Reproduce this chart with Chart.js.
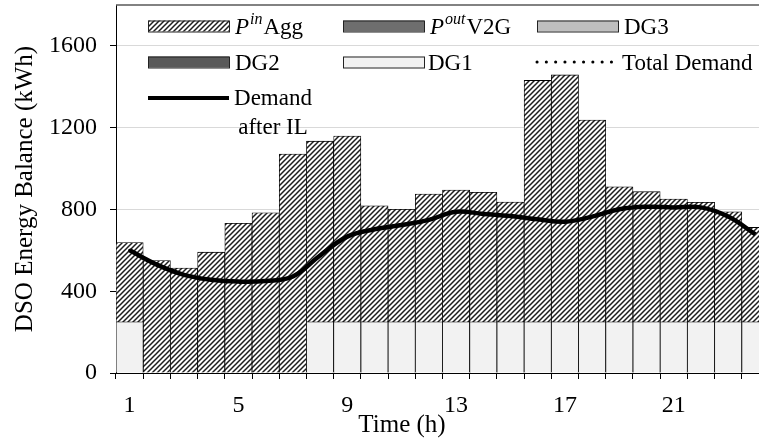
<!DOCTYPE html>
<html>
<head>
<meta charset="utf-8">
<script src="https://cdn.jsdelivr.net/npm/chart.js@4.4.0/dist/chart.umd.min.js"></script>
<style>
  html, body { margin: 0; padding: 0; background: #fff; overflow: hidden; }
  #wrap { position: relative; width: 772px; height: 441px; }
</style>
</head>
<body>
<div id="wrap"><canvas id="chart"></canvas></div>
<script>
// Hours of the day and which ones get a label
const hours = [1, 2, 3, 4, 5, 6, 7, 8, 9, 10, 11, 12, 13, 14, 15, 16, 17, 18, 19, 20, 21, 22, 23, 24];
const shownHours = [1, 5, 9, 13, 17, 21];

// Supply side (kWh), stacked bottom to top: DG1, DG2, DG3, V2G out, aggregator in
const dg1 = [250, 0, 0, 0, 0, 0, 0, 250, 250, 250, 250, 250, 250, 250, 250, 250, 250, 250, 250, 250, 250, 250, 250, 250];
const dg2 = [0, 0, 0, 0, 0, 0, 0, 0, 0, 0, 0, 0, 0, 0, 0, 0, 0, 0, 0, 0, 0, 0, 0, 0];
const dg3 = [0, 0, 0, 0, 0, 0, 0, 0, 0, 0, 0, 0, 0, 0, 0, 0, 0, 0, 0, 0, 0, 0, 0, 0];
const poutV2G = [0, 0, 0, 0, 0, 0, 0, 0, 0, 0, 0, 0, 0, 0, 0, 0, 0, 0, 0, 0, 0, 0, 0, 0];
const pinAgg = [388, 550, 513, 591, 732, 784, 1071, 884, 909, 568, 551, 625, 645, 634, 586, 1181, 1208, 987, 661, 637, 601, 585, 538, 462];

// Demand curves (kWh)
const totalDemand = [600, 530, 480, 456, 447, 450, 472, 575, 667, 703, 724, 749, 789, 778, 768, 752, 740, 765, 801, 813, 810, 810, 765, 678];
const demandAfterIL = [600, 530, 480, 456, 447, 450, 472, 575, 667, 703, 724, 749, 789, 778, 768, 752, 740, 765, 801, 813, 810, 810, 765, 678];

const FONT = '"Liberation Serif", "Times New Roman", serif';
Chart.defaults.font.family = FONT;
Chart.defaults.color = '#000';

function makeHatch() {
  const s = 5;
  const c = document.createElement('canvas');
  c.width = s; c.height = s;
  const g = c.getContext('2d');
  g.fillStyle = '#fff';
  g.fillRect(0, 0, s, s);
  g.strokeStyle = '#1e1e1e';
  g.lineWidth = 1.5;
  g.beginPath();
  g.moveTo(-1, s + 1); g.lineTo(s + 1, -1);
  g.moveTo(-1, 1); g.lineTo(1, -1);
  g.moveTo(s - 1, s + 1); g.lineTo(s + 1, s - 1);
  g.stroke();
  return g.createPattern(c, 'repeat');
}
const hatch = makeHatch();

const fills = { dg1: '#f2f2f2', dg2: '#595959', dg3: '#bfbfbf', v2g: '#6e6e6e' };

const barBase = { type: 'bar', borderColor: '#000', borderWidth: 0.8, barPercentage: 1, categoryPercentage: 1, order: 2 };

// Legend drawn inside the plot, three columns
const boxLegend = {
  id: 'boxLegend',
  afterDatasetsDraw(chart) {
    const ctx = chart.ctx;
    const boxW = 81, boxH = 11;
    const boxes = [
      { fill: hatch, x: 148, y: 26 },
      { fill: fills.v2g, x: 343, y: 26 },
      { fill: fills.dg3, x: 537, y: 26 },
      { fill: fills.dg2, x: 148, y: 62 },
      { fill: fills.dg1, x: 343, y: 62 }
    ];
    ctx.save();
    boxes.forEach(b => {
      ctx.fillStyle = b.fill;
      ctx.fillRect(b.x, b.y - boxH / 2, boxW, boxH);
      ctx.strokeStyle = '#222';
      ctx.lineWidth = 1;
      ctx.strokeRect(b.x + 0.5, b.y - boxH / 2 + 0.5, boxW, boxH);
    });

    ctx.fillStyle = '#000';
    ctx.textBaseline = 'middle';
    ctx.textAlign = 'left';
    ctx.font = '23px ' + FONT;
    ctx.fillText('DG3', 624, 28);
    ctx.fillText('DG2', 235, 64);
    ctx.fillText('DG1', 428, 64);
    ctx.fillText('Total Demand', 622, 64);

    // P^in Agg
    ctx.font = 'italic 23px ' + FONT;
    ctx.fillText('P', 235, 28);
    let w = ctx.measureText('P').width;
    ctx.font = 'italic 16px ' + FONT;
    ctx.fillText('in', 236 + w, 20);
    let w2 = ctx.measureText('in').width;
    ctx.font = '23px ' + FONT;
    ctx.fillText('Agg', 237 + w + w2, 28);

    // P^out V2G
    ctx.font = 'italic 23px ' + FONT;
    ctx.fillText('P', 430, 28);
    w = ctx.measureText('P').width;
    ctx.font = 'italic 16px ' + FONT;
    ctx.fillText('out', 431 + w, 20);
    w2 = ctx.measureText('out').width;
    ctx.font = '23px ' + FONT;
    ctx.fillText('V2G', 432 + w + w2, 28);

    // dotted total demand
    ctx.strokeStyle = '#000';
    ctx.lineWidth = 3;
    ctx.lineCap = 'round';
    ctx.setLineDash([0.1, 9.2]);
    ctx.beginPath();
    ctx.moveTo(537, 62); ctx.lineTo(618, 62);
    ctx.stroke();
    ctx.setLineDash([]);

    // demand after IL
    ctx.lineCap = 'butt';
    ctx.lineWidth = 4;
    ctx.beginPath();
    ctx.moveTo(148, 98); ctx.lineTo(229, 98);
    ctx.stroke();
    ctx.textAlign = 'center';
    ctx.fillText('Demand', 273, 99);
    ctx.fillText('after IL', 273, 128);

    // x axis title
    ctx.font = '25px ' + FONT;
    ctx.fillText('Time (h)', 402, 425);
    ctx.restore();
  }
};

const plotFrame = {
  id: 'plotFrame',
  afterDraw(chart) {
    const { ctx, chartArea: a } = chart;
    ctx.save();
    ctx.strokeStyle = '#595959';
    ctx.lineWidth = 1.5;
    ctx.beginPath();
    ctx.moveTo(a.left, a.top);
    ctx.lineTo(a.right + 5, a.top);
    ctx.stroke();
    ctx.restore();
  }
};

new Chart(document.getElementById('chart'), {
  data: {
    labels: hours,
    datasets: [
      { ...barBase, label: 'DG1', data: dg1, backgroundColor: fills.dg1 },
      { ...barBase, label: 'DG2', data: dg2, backgroundColor: fills.dg2 },
      { ...barBase, label: 'DG3', data: dg3, backgroundColor: fills.dg3 },
      { ...barBase, label: 'PoutV2G', data: poutV2G, backgroundColor: fills.v2g },
      { ...barBase, label: 'PinAgg', data: pinAgg, backgroundColor: hatch },
      {
        type: 'line', label: 'Total Demand', data: totalDemand, stack: 'td',
        borderColor: '#000', borderWidth: 3, borderDash: [0.1, 9], borderCapStyle: 'round',
        pointRadius: 0, tension: 0.4, order: 1
      },
      {
        type: 'line', label: 'Demand after IL', data: demandAfterIL, stack: 'il',
        borderColor: '#000', borderWidth: 4.5, pointRadius: 0, tension: 0.4, order: 0
      }
    ]
  },
  options: {
    responsive: true,
    maintainAspectRatio: false,
    animation: false,
    layout: { padding: { top: 5, right: 3, left: 0, bottom: 0 } },
    plugins: { legend: { display: false }, tooltip: { enabled: false } },
    scales: {
      x: {
        stacked: true,
        offset: true,
        grid: { offset: true, drawOnChartArea: false, drawTicks: true, tickLength: 6, tickColor: '#000' },
        border: { color: '#000', width: 1 },
        ticks: {
          autoSkip: false, maxRotation: 0, padding: 12, color: '#000', font: { size: 24 },
          callback: (v, i) => shownHours.includes(hours[i]) ? String(hours[i]) : ''
        },
        afterFit: s => { s.height = 68; s.paddingLeft = 0; s.paddingRight = 0; }
      },
      y: {
        stacked: true,
        min: 0,
        max: 1800,
        ticks: { stepSize: 400, padding: 13, color: '#000', font: { size: 24 }, callback: v => String(v) },
        afterBuildTicks: s => { s.ticks = s.ticks.filter(t => t.value <= 1600); },
        grid: { color: '#d9d9d9', tickColor: '#000', tickLength: 6, lineWidth: 1 },
        border: { color: '#000', width: 1 },
        title: { display: true, text: 'DSO Energy Balance (kWh)', color: '#000', font: { size: 25 }, padding: { top: 10, bottom: 0 } },
        afterFit: s => { s.width = 116; s.paddingTop = 0; s.paddingBottom = 0; }
      }
    }
  },
  plugins: [boxLegend, plotFrame]
});
</script>
</body>
</html>
